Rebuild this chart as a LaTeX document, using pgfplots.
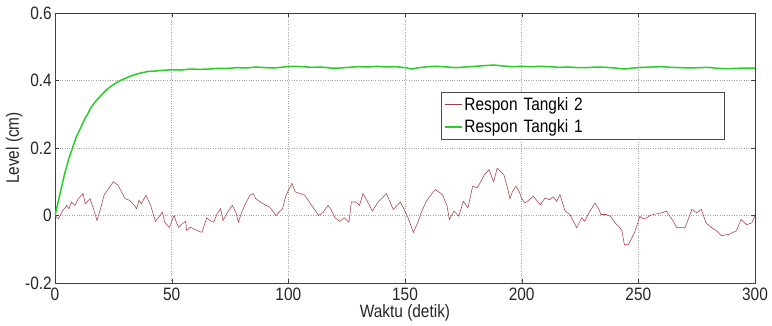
\documentclass[border=0pt]{standalone}
\usepackage{pgfplots}
\pgfplotsset{compat=1.18}
\usepackage{fontspec}
\setmainfont[FakeStretch=0.86]{Liberation Sans}
\definecolor{redline}{RGB}{170,60,70}
\definecolor{greenline}{RGB}{40,205,40}
\definecolor{gridc}{RGB}{165,165,165}
\begin{document}
\begin{tikzpicture}
\useasboundingbox (-55bp,-43bp) rectangle (717bp,283bp);
\begin{axis}[
  at={(0,0)}, anchor=south west,
  scale only axis, width=700bp, height=270bp,
  xmin=0, xmax=300, ymin=-0.2, ymax=0.6,
  xtick={0,50,100,150,200,250,300},
  ytick={-0.2,0,0.2,0.4,0.6},
  yticklabels={-0.2,0,0.2,0.4,0.6},
  tick align=inside, tick pos=both,
  major tick length=4bp,
  grid=major,
  major grid style={gridc, dotted, line width=0.6bp},
  axis line style={black!75, line width=0.7bp},
  tick style={black!75},
  /pgf/number format/assume math mode=true,
  every tick label/.append style={font=\fontsize{18}{20}\selectfont, text=black!85, inner sep=1bp},
  xticklabel style={yshift=-4bp},
  yticklabel style={xshift=-2bp},
  xlabel={Waktu (detik)}, ylabel={Level (cm)},
  label style={font=\fontsize{18}{20}\selectfont, text=black!85},
  xlabel style={at={(axis description cs:0.5,0)}, anchor=center, yshift=-30bp},
  ylabel style={yshift=-2bp},
  legend style={at={(0.551,0.707)}, anchor=north west, draw=black!70, line width=0.6bp,
    font=\fontsize{18}{20}\selectfont, cells={anchor=west}, inner sep=3bp, row sep=4bp},
]
\addplot[color=redline, line width=0.55bp] coordinates {
(0,0) (1.4,-0.01) (3,0.01) (5,0.03) (6,0.02) (7,0.04) (8.5,0.03) (10,0.05) (12,0.065) (13,0.035)
(15,0.05) (16.5,0.02) (18,-0.015) (19.5,0.02) (21,0.06) (23,0.08) (25,0.1) (27,0.09) (28.5,0.07)
(30,0.05) (32,0.045) (34,0.03) (35,0.02) (36,0.045) (37,0.035) (39,0.06) (41,0.03) (43,-0.017)
(44.5,-0.005) (46,0.01) (47,-0.02) (49,-0.035) (51,0) (52,-0.02) (53,-0.035) (54.5,-0.025)
(56,-0.017) (56.4,-0.045) (58,-0.035) (61,-0.045) (63,-0.05) (65,-0.007) (66.5,-0.015) (68,-0.02)
(69.5,0.005) (71,0.02) (72,-0.015) (74,0.01) (76,0.03) (77.5,0.01) (78.6,-0.02) (80,0.01) (82,0.04)
(83.6,0.06) (85,0.065) (86,0.05) (88,0.04) (90.4,0.03) (92,0.025) (94.7,0) (97.5,0.02) (99,0.06)
(101.5,0.095) (103,0.07) (105,0.065) (107,0.06) (110,0.03) (113,0) (115,0.01) (117,0.03)
(118.5,0.015) (120,-0.007) (122,-0.017) (124,-0.007) (126,-0.02) (127,0.04) (129,0.04) (130.5,0.03)
(132,0.065) (134,0.04) (136,0.013) (138.5,0.04) (140,0.05) (142,0.065) (145,0.018) (148,0.04)
(150.7,0.003) (152,-0.02) (153.6,-0.05) (155.7,-0.017) (157,0.01) (159,0.04) (161,0.06) (163,0.077)
(166,0.062) (168,0.03) (169,-0.012) (171,0.013) (173,-0.002) (175,0.042) (177,0.023) (179,0.087)
(181,0.082) (184,0.12) (186,0.136) (188,0.1) (189.5,0.14) (191,0.13) (192.4,0.12) (194,0.08)
(195,0.05) (196,0.07) (197.5,0.087) (199,0.07) (200,0.05) (201.4,0.037) (203,0.045) (205,0.057)
(208,0.032) (210,0.052) (212,0.047) (213.5,0.055) (215,0.042) (216.4,0.062) (218.6,0.013)
(220.7,0.003) (222,-0.015) (223.6,-0.036) (225.7,-0.007) (227,-0.017) (229,0.01) (231.4,0.037)
(233,0.02) (234,0.003) (236,0.003) (238,-0.002) (240.7,-0.027) (242,-0.035) (243,-0.046)
(244,-0.086) (245.7,-0.086) (247,-0.07) (248.6,-0.046) (250.7,-0.002) (252,-0.01) (253.6,-0.007)
(255,0.0) (256.4,0.003) (258,0.005) (260,0.008) (262,0.013) (265,-0.017) (266.4,-0.036) (270,-0.036)
(272,0.0) (273,0.018) (275,0.008) (277,0.018) (279,-0.022) (281.4,-0.036) (283.6,-0.046)
(285.7,-0.06) (287,-0.058) (289,-0.056) (290.5,-0.05) (292,-0.046) (294,-0.012) (296.4,-0.027)
(298.6,-0.022) (300,-0.002)
};
\addlegendentry[text width=255bp]{Respon Tangki 2}
\addplot[color=greenline, line width=1.5bp] coordinates {
(0,0) (1,0.03) (2,0.06) (3,0.09) (4,0.12) (5,0.145) (6,0.17) (7,0.19) (8,0.21) (9,0.23) (10,0.245)
(11,0.26) (12,0.275) (13,0.29) (14,0.30) (15,0.315) (16,0.325) (17,0.335) (18,0.343) (19,0.35)
(20,0.358) (22,0.372) (24,0.383) (26,0.392) (28,0.40) (30,0.406) (32,0.412) (34,0.417) (36,0.421)
(38,0.424) (40,0.427) (43,0.428) (46,0.430) (50,0.432) (54,0.431) (58,0.434) (62,0.433) (66,0.434)
(70,0.436) (74,0.436) (78,0.438) (82,0.437) (86,0.440) (90,0.438) (94,0.437) (98,0.440) (102,0.442)
(106,0.441) (110,0.439) (114,0.440) (118,0.437) (122,0.437) (126,0.439) (130,0.441) (134,0.440)
(138,0.442) (142,0.440) (146,0.441) (150,0.438) (153,0.434) (156,0.438) (160,0.441) (164,0.442)
(168,0.440) (172,0.438) (176,0.440) (180,0.442) (184,0.444) (188,0.446) (192,0.443) (196,0.441)
(200,0.442) (204,0.441) (208,0.442) (212,0.441) (216,0.439) (220,0.440) (224,0.438) (228,0.438)
(232,0.440) (236,0.439) (240,0.437) (244,0.434) (248,0.437) (252,0.439) (256,0.440) (260,0.441)
(264,0.439) (268,0.438) (272,0.437) (276,0.438) (280,0.439) (284,0.436) (288,0.435) (292,0.436)
(296,0.437) (300,0.437)
};
\addlegendentry[text width=255bp]{Respon Tangki 1}
\end{axis}
\end{tikzpicture}
\end{document}
